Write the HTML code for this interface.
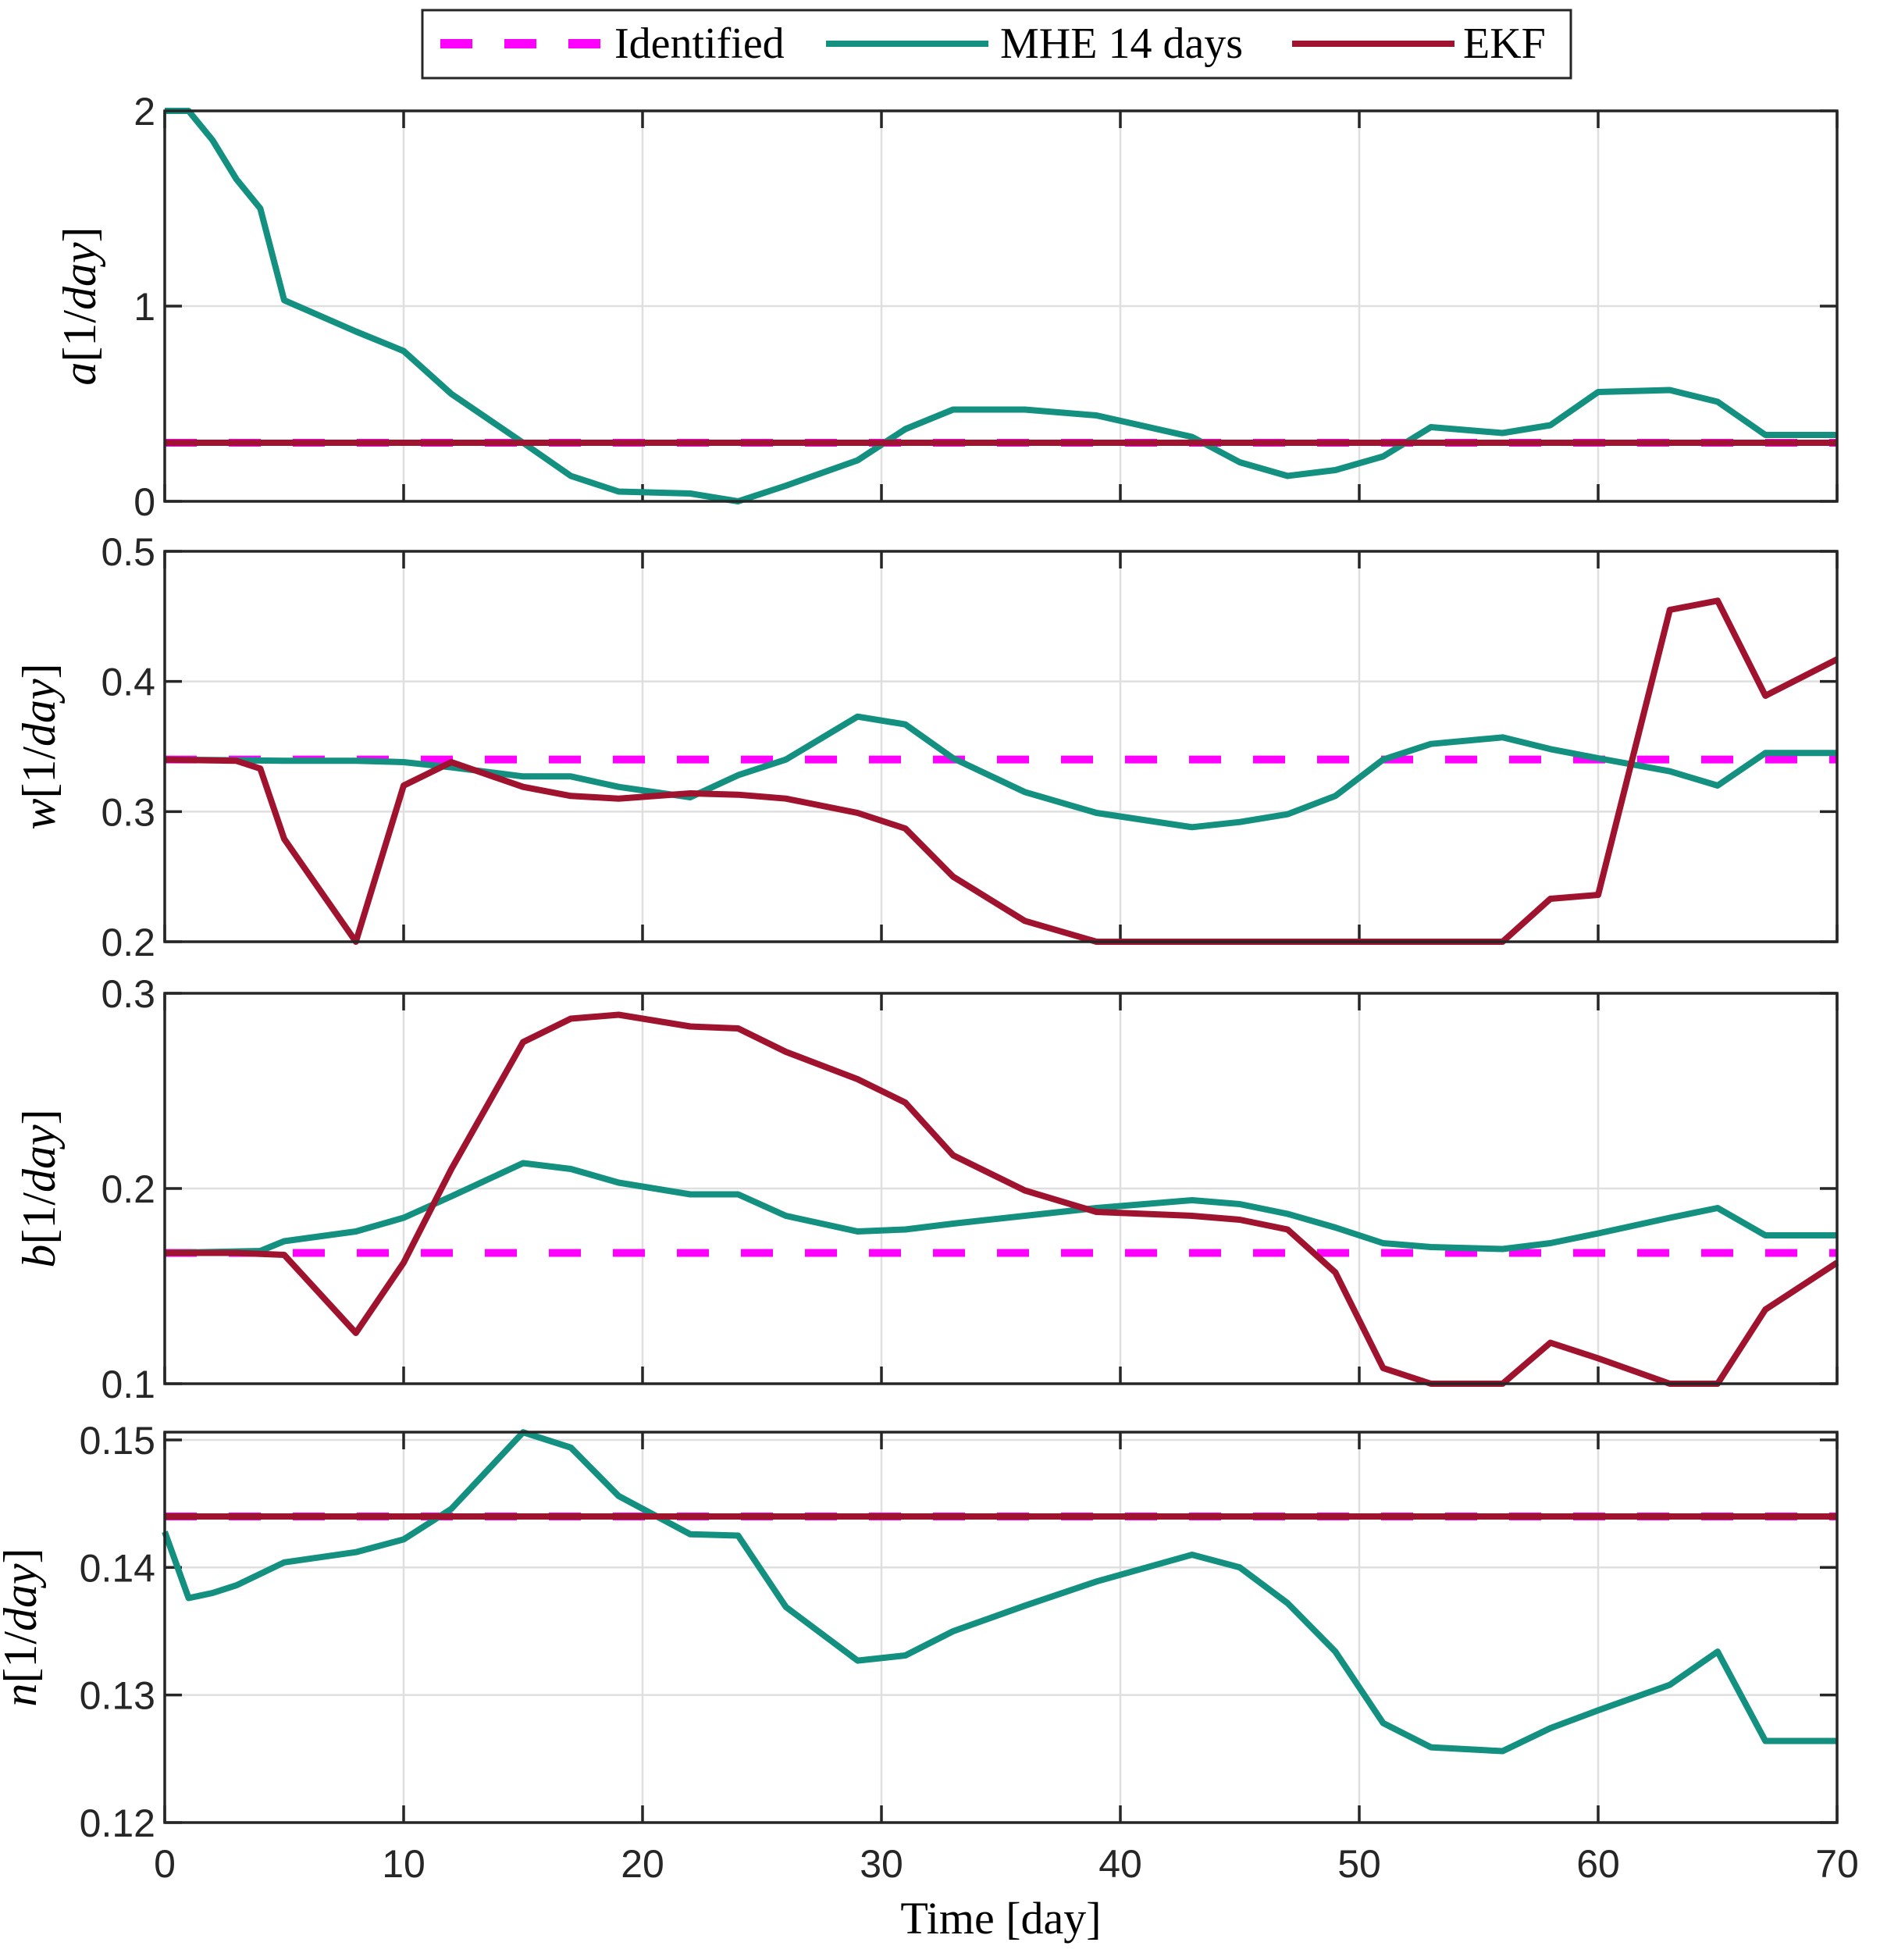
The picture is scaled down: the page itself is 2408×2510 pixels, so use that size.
<!DOCTYPE html>
<html><head><meta charset="utf-8">
<style>
html,body{margin:0;padding:0;background:#fff;}
svg{display:block;}
</style></head>
<body>
<svg id="s" xmlns="http://www.w3.org/2000/svg" width="2408" height="2510" viewBox="0 0 2408 2510">
<rect width="2408" height="2510" fill="#fff"/>
</svg>
<script>
const NS="http://www.w3.org/2000/svg";
const svg=document.getElementById('s');
function el(t,a,txt){const e=document.createElementNS(NS,t);for(const k in a)e.setAttribute(k,a[k]);if(txt!==undefined)e.textContent=txt;svg.appendChild(e);return e;}
const X0=211,X1=2353;
const xs=d=>X0+(X1-X0)*d/70;
const TEAL="#13907f",RED="#a0132f",MAG="#ff00ff",AX="#262626";
const panels=[
 {t:142,b:642,lo:0,hi:2,ticks:[0,1,2],fmt:v=>String(v),lab:"a",labx:122,id:0.3,
  mhe:[[0,2],[1,2],[2,1.85],[3,1.65],[4,1.5],[5,1.03],[8,0.87],[10,0.77],[12,0.55],[15,0.3],[17,0.13],[19,0.05],[22,0.04],[24,0.0],[26,0.08],[29,0.21],[31,0.37],[33,0.47],[36,0.47],[39,0.44],[43,0.33],[45,0.2],[47,0.13],[49,0.16],[51,0.23],[53,0.38],[56,0.35],[58,0.39],[60,0.56],[63,0.57],[65,0.51],[67,0.34],[70,0.34]],
  ekf:[[0,0.3],[70,0.3]]},
 {t:706,b:1206,lo:0.2,hi:0.5,ticks:[0.2,0.3,0.4,0.5],fmt:v=>v.toFixed(1),lab:"w",labx:70,id:0.34,
  mhe:[[0,0.34],[5,0.339],[8,0.339],[10,0.338],[12,0.334],[15,0.327],[17,0.327],[19,0.319],[22,0.311],[24,0.328],[26,0.34],[29,0.373],[31,0.367],[33,0.341],[36,0.315],[39,0.299],[43,0.288],[45,0.292],[47,0.298],[49,0.312],[51,0.34],[53,0.352],[56,0.357],[58,0.348],[60,0.341],[63,0.331],[65,0.32],[67,0.345],[70,0.345]],
  ekf:[[0,0.34],[3,0.339],[4,0.333],[5,0.279],[8,0.2],[10,0.32],[12,0.338],[15,0.319],[17,0.312],[19,0.31],[22,0.314],[24,0.313],[26,0.31],[29,0.299],[31,0.287],[33,0.25],[36,0.216],[39,0.2],[56,0.2],[58,0.233],[60,0.236],[63,0.455],[65,0.462],[67,0.389],[70,0.417]]},
 {t:1272,b:1772,lo:0.1,hi:0.3,ticks:[0.1,0.2,0.3],fmt:v=>v.toFixed(1),lab:"b",labx:70,id:0.167,
  mhe:[[0,0.167],[4,0.168],[5,0.173],[8,0.178],[10,0.185],[12,0.196],[15,0.213],[17,0.21],[19,0.203],[22,0.197],[24,0.197],[26,0.186],[29,0.178],[31,0.179],[33,0.182],[36,0.186],[39,0.19],[43,0.194],[45,0.192],[47,0.187],[49,0.18],[51,0.172],[53,0.17],[56,0.169],[58,0.172],[60,0.177],[63,0.185],[65,0.19],[67,0.176],[70,0.176]],
  ekf:[[0,0.167],[3,0.167],[5,0.166],[8,0.126],[10,0.162],[12,0.21],[15,0.275],[17,0.287],[19,0.289],[22,0.283],[24,0.282],[26,0.27],[29,0.256],[31,0.244],[33,0.217],[36,0.199],[39,0.188],[43,0.186],[45,0.184],[47,0.179],[49,0.157],[51,0.108],[53,0.1],[56,0.1],[58,0.121],[60,0.113],[63,0.1],[65,0.1],[67,0.138],[70,0.162]]},
 {t:1834,b:2334,lo:0.12,hi:0.15061,ticks:[0.12,0.13,0.14,0.15],fmt:v=>v.toFixed(2),lab:"n",labx:46,id:0.144,
  mhe:[[0,0.1428],[1,0.1376],[2,0.138],[3,0.1386],[5,0.1404],[8,0.1412],[10,0.1422],[12,0.1446],[15,0.1506],[17,0.1494],[19,0.1456],[22,0.1426],[24,0.1425],[26,0.1369],[29,0.1327],[31,0.1331],[33,0.135],[36,0.137],[39,0.1389],[43,0.141],[45,0.14],[47,0.1372],[49,0.1334],[51,0.1278],[53,0.1259],[56,0.1256],[58,0.1274],[60,0.1288],[63,0.1308],[65,0.1334],[67,0.1264],[70,0.1264]],
  ekf:[[0,0.144],[70,0.144]]}
];
panels.forEach((p,i)=>{
  const ys=v=>p.b-(p.b-p.t)*(v-p.lo)/(p.hi-p.lo);
  for(let d=10;d<70;d+=10) el('line',{x1:xs(d),x2:xs(d),y1:p.t,y2:p.b,stroke:"#dfdfdf","stroke-width":2.5});
  p.ticks.forEach(v=>{const y=ys(v); if(y>p.t+2&&y<p.b-2) el('line',{x1:X0,x2:X1,y1:y,y2:y,stroke:"#dfdfdf","stroke-width":2.5});});
  for(let d=0;d<=70;d+=10){el('line',{x1:xs(d),x2:xs(d),y1:p.b,y2:p.b-22,stroke:AX,"stroke-width":3.5});el('line',{x1:xs(d),x2:xs(d),y1:p.t,y2:p.t+22,stroke:AX,"stroke-width":3.5});}
  p.ticks.forEach(v=>{const y=ys(v);el('line',{x1:X0,x2:X0+22,y1:y,y2:y,stroke:AX,"stroke-width":3.5});el('line',{x1:X1,x2:X1-22,y1:y,y2:y,stroke:AX,"stroke-width":3.5});
    el('text',{x:X0-12,y:y+18,"text-anchor":"end","font-family":"Liberation Sans, sans-serif","font-size":50,fill:AX},p.fmt(v));});
  const pts=a=>a.map(q=>xs(q[0]).toFixed(1)+","+ys(q[1]).toFixed(1)).join(" ");
  el('line',{x1:X0,x2:X1,y1:ys(p.id),y2:ys(p.id),stroke:MAG,"stroke-width":10,"stroke-dasharray":"41 41"});
  el('polyline',{points:pts(p.mhe),fill:"none",stroke:TEAL,"stroke-width":8,"stroke-linejoin":"round"});
  el('polyline',{points:pts(p.ekf),fill:"none",stroke:RED,"stroke-width":8,"stroke-linejoin":"round"});
  el('rect',{x:X0,y:p.t,width:X1-X0,height:p.b-p.t,fill:"none",stroke:AX,"stroke-width":3.5});
  const cy=(p.t+p.b)/2;
  const t=el('text',{x:p.labx,y:cy,"text-anchor":"middle","font-family":"Liberation Serif, serif","font-size":60,fill:"#000",transform:`rotate(-90 ${p.labx} ${cy})`});
  const sp=(s,it)=>{const e=document.createElementNS(NS,'tspan');if(it)e.setAttribute('font-style','italic');e.textContent=s;t.appendChild(e);};
  sp(p.lab,true);sp("[1/",false);sp("day",true);sp("]",false);
  if(i===3){for(let d=0;d<=70;d+=10) el('text',{x:xs(d),y:p.b+70,"text-anchor":"middle","font-family":"Liberation Sans, sans-serif","font-size":50,fill:AX},String(d));}
});
el('text',{x:(X0+X1)/2,y:2476,"text-anchor":"middle","font-family":"Liberation Serif, serif","font-size":58,fill:"#000"},"Time [day]");
el('rect',{x:541,y:13,width:1471,height:87,fill:"#fff",stroke:AX,"stroke-width":3});
el('line',{x1:564,x2:772,y1:56,y2:56,stroke:MAG,"stroke-width":12,"stroke-dasharray":"41 41"});
el('text',{x:787,y:74,"font-family":"Liberation Serif, serif","font-size":56,fill:"#000"},"Identified");
el('line',{x1:1058,x2:1266,y1:56,y2:56,stroke:TEAL,"stroke-width":8});
el('text',{x:1281,y:74,"font-family":"Liberation Serif, serif","font-size":56,fill:"#000"},"MHE 14 days");
el('line',{x1:1655,x2:1863,y1:56,y2:56,stroke:RED,"stroke-width":8});
el('text',{x:1874,y:74,"font-family":"Liberation Serif, serif","font-size":56,fill:"#000"},"EKF");
</script>
</body></html>
